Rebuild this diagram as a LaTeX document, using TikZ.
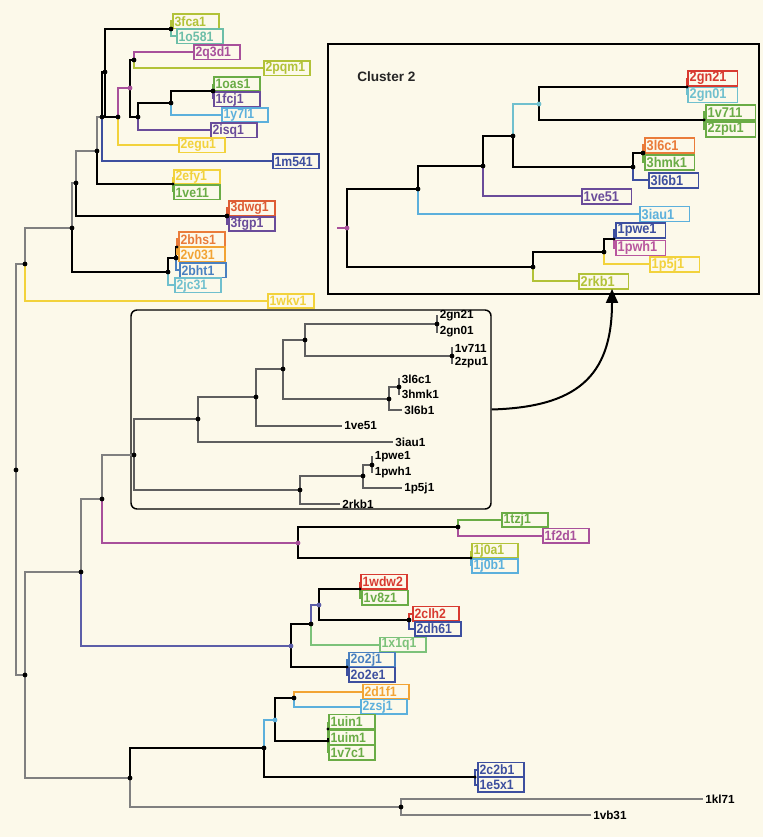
\documentclass[tikz,border=0pt]{standalone}
\usepackage{fontspec}
\setmainfont{Liberation Sans}
\newfontfamily\labfont{Liberation Sans}[FakeStretch=0.9]
\usetikzlibrary{arrows.meta}
\definecolor{bg}{RGB}{252,249,234}
\definecolor{cYG}{RGB}{178,194,56}
\definecolor{cTeal}{RGB}{108,190,168}
\definecolor{cMag}{RGB}{168,80,155}
\definecolor{cGreen}{RGB}{106,172,70}
\definecolor{cPurp}{RGB}{106,76,154}
\definecolor{cLB}{RGB}{92,176,220}
\definecolor{cYel}{RGB}{242,210,60}
\definecolor{cDB}{RGB}{61,79,159}
\definecolor{cRedO}{RGB}{222,92,52}
\definecolor{cOr}{RGB}{234,124,58}
\definecolor{cLOr}{RGB}{242,164,52}
\definecolor{cBlue}{RGB}{74,128,192}
\definecolor{cTeal2}{RGB}{112,192,206}
\definecolor{cRed}{RGB}{216,58,48}
\definecolor{cPink}{RGB}{184,86,158}
\definecolor{cLG}{RGB}{124,194,122}
\definecolor{cBP}{RGB}{92,94,168}
\definecolor{cGray}{RGB}{128,128,128}
\definecolor{cMidG}{RGB}{95,95,95}
\begin{document}
\begin{tikzpicture}[x=0.75pt,y=-0.75pt,
 lab/.style={draw=#1, text=#1, fill=bg, line width=1.4pt, font=\labfont\fontsize{10.2}{11}\selectfont\bfseries, anchor=west, inner xsep=1.3pt, inner ysep=0pt, minimum height=10.6pt, text width=32pt, align=left},
 labw/.style={lab=#1, text width=34.6pt, minimum height=11.2pt, font=\labfont\fontsize{10.6}{11}\selectfont\bfseries},
 mlab/.style={font=\fontsize{8.8}{9}\selectfont\bfseries, anchor=west, inner xsep=1.5pt, inner ysep=0pt},
 gbr/.style={draw=cGray, line width=0.95pt},
 kbr/.style={draw=black, line width=1.6pt},
 cbr/.style={draw=#1, line width=1.5pt},
 mbr/.style={draw=cMidG, line width=0.95pt}]
\fill[bg] (0,0) rectangle (763,837);
\useasboundingbox (0,0) rectangle (763,837);

% ---------- frames ----------
\node[draw=black, line width=1.9pt, minimum width=323.25pt, minimum height=187.5pt, inner sep=0pt] (cbox) at (543.5,169) {};
\node[draw=black, line width=1.1pt, rounded corners=4.5pt, minimum width=270pt, minimum height=149.25pt, inner sep=0pt] (mbox) at (311,409.5) {};
\node[font=\fontsize{10.2}{12}\selectfont\bfseries, anchor=west, inner sep=0pt, text=black!85] (ctitle) at (357,77) {Cluster 2};

% ---------- coordinates: upper-left tree ----------
\coordinate (R) at (16,470);
\coordinate (G) at (25,264);
\coordinate (A) at (72,228);
\coordinate (B) at (76,183);
\coordinate (C) at (97,151);
\coordinate (D) at (102,117);
\coordinate (F) at (105,72);
\coordinate (FC) at (171,29);
\coordinate (E) at (118,117);
\coordinate (I) at (130,88);
\coordinate (J) at (134,60);
\coordinate (K) at (138,117);
\coordinate (L) at (171,103);
\coordinate (M) at (213,91);
\coordinate (EF) at (173,184);
\coordinate (DW) at (227,216);
\coordinate (BH) at (168,272);
\coordinate (BH2) at (176,258);
\coordinate (BH3) at (177,247);
% lower tree
\coordinate (H) at (25,675);
\coordinate (S) at (81,572);
\coordinate (P) at (102,499);
\coordinate (Q) at (298,543);
\coordinate (TZ) at (458,527);
\coordinate (JA) at (471,558);
\coordinate (T) at (291,646);
\coordinate (U) at (311,624);
\coordinate (V) at (319,605);
\coordinate (WD) at (360,589);
\coordinate (CL) at (409,620);
\coordinate (OJ) at (347,667);
\coordinate (W) at (130,778);
\coordinate (X) at (264,748);
\coordinate (Z) at (275,720);
\coordinate (AA) at (294,698);
\coordinate (UI) at (328,741);
\coordinate (UI2) at (328,729);
\coordinate (CB) at (475,777);
\coordinate (Y) at (401,807);
% middle box tree
\coordinate (MR) at (134,455);
\coordinate (m1) at (198,419);
\coordinate (m2) at (256,397);
\coordinate (m3) at (283,369);
\coordinate (m4) at (305,340);
\coordinate (mg) at (437,324);
\coordinate (mv) at (452,356);
\coordinate (m5) at (389,399);
\coordinate (ml) at (399,387);
\coordinate (m6) at (300,490);
\coordinate (m7) at (363,476);
\coordinate (mp) at (372,465);
% cluster 2 tree
\coordinate (CR0) at (337,228);
\coordinate (CR) at (347,228);
\coordinate (N1) at (418,189);
\coordinate (N2) at (483,166);
\coordinate (N3) at (513,136);
\coordinate (N4) at (539,104);
\coordinate (GN) at (687,87);
\coordinate (VZ) at (704,120);
\coordinate (N5) at (633,167);
\coordinate (LC) at (643,153);
\coordinate (N6) at (533,267);
\coordinate (N7) at (604,252);
\coordinate (N8) at (614,239);
\coordinate (atip) at (612,289);

% ---------- labels: upper-left ----------
\node[lab=cYG] (l3fca1) at (172,21.5) {3fca1};
\node[lab=cTeal] (l1o581) at (176,36.5) {1o581};
\node[lab=cMag] (l2q3d1) at (193,52.5) {2q3d1};
\node[lab=cYG] (l2pqm1) at (263,68.5) {2pqm1};
\node[lab=cGreen] (l1oas1) at (213,84) {1oas1};
\node[lab=cPurp] (l1fcj1) at (213,99.5) {1fcj1};
\node[lab=cLB] (l1y7l1) at (221,115) {1y7l1};
\node[lab=cPurp] (l2isq1) at (210,130.5) {2isq1};
\node[lab=cYel] (l2egu1) at (178,145.5) {2egu1};
\node[lab=cDB] (l1m541) at (272,161.5) {1m541};
\node[lab=cYel] (l2efy1) at (173,177) {2efy1};
\node[lab=cGreen] (l1ve11) at (173,192.5) {1ve11};
\node[lab=cRedO] (l3dwg1) at (228,208.5) {3dwg1};
\node[lab=cPurp] (l3fgp1) at (228,224) {3fgp1};
\node[lab=cOr] (l2bhs1) at (178,239.5) {2bhs1};
\node[lab=cLOr] (l2v031) at (178,254.5) {2v031};
\node[lab=cBlue] (l2bht1) at (179,270.5) {2bht1};
\node[lab=cTeal2] (l2jc31) at (174,285.5) {2jc31};
\node[lab=cYel] (l1wkv1) at (267,301) {1wkv1};
% lower
\node[lab=cGreen] (l1tzj1) at (501,520) {1tzj1};
\node[lab=cMag] (l1f2d1) at (542,535.5) {1f2d1};
\node[lab=cYG] (l1j0a1) at (471,550.5) {1j0a1};
\node[lab=cLB] (l1j0b1) at (471,566) {1j0b1};
\node[lab=cRed] (l1wdw2) at (360,581.5) {1wdw2};
\node[lab=cGreen] (l1v8z1) at (361,597.5) {1v8z1};
\node[lab=cRed] (l2clh2) at (412,613.5) {2clh2};
\node[lab=cDB] (l2dh61) at (414,629) {2dh61};
\node[lab=cLG] (l1x1q1) at (379,644.5) {1x1q1};
\node[lab=cBlue] (l2o2j1) at (348,659.5) {2o2j1};
\node[lab=cDB] (l2o2e1) at (348,674.5) {2o2e1};
\node[lab=cLOr] (l2d1f1) at (362,691.5) {2d1f1};
\node[lab=cLB] (l2zsj1) at (360,706.5) {2zsj1};
\node[lab=cGreen] (l1uin1) at (328,721.5) {1uin1};
\node[lab=cGreen] (l1uim1) at (328,737.5) {1uim1};
\node[lab=cGreen] (l1v7c1) at (328,752.5) {1v7c1};
\node[lab=cDB] (l2c2b1) at (477,769.5) {2c2b1};
\node[lab=cDB] (l1e5x1) at (477,784.5) {1e5x1};
% cluster 2
\node[labw=cRed] (c2gn21) at (687,78.5) {2gn21};
\node[labw=cTeal2] (c2gn01) at (687,95) {2gn01};
\node[labw=cGreen] (c1v711) at (705,112.5) {1v711};
\node[labw=cGreen] (c2zpu1) at (705,129.5) {2zpu1};
\node[labw=cOr] (c3l6c1) at (644,145.5) {3l6c1};
\node[labw=cGreen] (c3hmk1) at (644,162.5) {3hmk1};
\node[labw=cDB] (c3l6b1) at (648,180.5) {3l6b1};
\node[labw=cPurp] (c1ve51) at (581,196.5) {1ve51};
\node[labw=cLB] (c3iau1) at (639,214) {3iau1};
\node[labw=cDB] (c1pwe1) at (615,230.5) {1pwe1};
\node[labw=cPink] (c1pwh1) at (615,248) {1pwh1};
\node[labw=cYel] (c1p5j1) at (649,264.5) {1p5j1};
\node[labw=cYG] (c2rkb1) at (578,281.5) {2rkb1};
% middle box labels
\node[mlab] (m2gn21) at (437.5,316) {2gn21};
\node[mlab] (m2gn01) at (437.5,332) {2gn01};
\node[mlab] (m1v711) at (452.5,348) {1v711};
\node[mlab] (m2zpu1) at (452.5,363) {2zpu1};
\node[mlab] (m3l6c1) at (399.5,379) {3l6c1};
\node[mlab] (m3hmk1) at (399.5,394) {3hmk1};
\node[mlab] (m3l6b1) at (402,410) {3l6b1};
\node[mlab] (m1ve51) at (342,426) {1ve51};
\node[mlab] (m3iau1) at (393,442) {3iau1};
\node[mlab] (m1pwe1) at (372.5,457) {1pwe1};
\node[mlab] (m1pwh1) at (372.5,472) {1pwh1};
\node[mlab] (m1p5j1) at (402,488) {1p5j1};
\node[mlab] (m2rkb1) at (340,504) {2rkb1};
\node[mlab] (m1kl71) at (703,799) {1kl71};
\node[mlab] (m1vb31) at (591,815) {1vb31};

% ---------- edges: upper-left ----------
\draw[gbr] (R) |- (G);
\draw[gbr] (R) |- (H);
\draw[gbr] (G) |- (A);
\draw[cbr=cYel] (G) |- (l1wkv1.west);
\draw[gbr] (A) |- (B);
\draw[kbr] (A) |- (BH);
\draw[gbr] (B) |- (C);
\draw[kbr] (B) |- (DW);
\draw[gbr] (C) |- (D);
\draw[kbr] (C) |- (EF);
\draw[kbr] (D) |- (F);
\draw[cbr=cDB] (D) |- (l1m541.west);
\draw[kbr] (F) |- (FC);
\draw[kbr] (F) |- (E);
\draw[cbr=cYG] (FC) |- (l3fca1.west);
\draw[cbr=cTeal] (FC) |- (l1o581.west);
\draw[cbr=cMag] (E) |- (I);
\draw[cbr=cYel] (E) |- (l2egu1.west);
\draw[kbr] (I) |- (J);
\draw[kbr] (I) |- (K);
\draw[cbr=cMag] (J) |- (l2q3d1.west);
\draw[cbr=cYG] (J) |- (l2pqm1.west);
\draw[kbr] (K) |- (L);
\draw[cbr=cPurp] (K) |- (l2isq1.west);
\draw[kbr] (L) |- (M);
\draw[cbr=cLB] (L) |- (l1y7l1.west);
\draw[cbr=cGreen] (M) |- (l1oas1.west);
\draw[cbr=cPurp] (M) |- (l1fcj1.west);
\draw[cbr=cYel] (EF) |- (l2efy1.west);
\draw[cbr=cGreen] (EF) |- (l1ve11.west);
\draw[cbr=cRedO] (DW) |- (l3dwg1.west);
\draw[cbr=cPurp] (DW) |- (l3fgp1.west);
\draw[kbr] (BH) |- (BH2);
\draw[cbr=cTeal2] (BH) |- (l2jc31.west);
\draw[kbr] (BH2) |- (BH3);
\draw[cbr=cBlue] (BH2) |- (l2bht1.west);
\draw[cbr=cOr] (BH3) |- (l2bhs1.west);
\draw[cbr=cLOr] (BH3) |- (l2v031.west);
% lower
\draw[gbr] (H) |- (S);
\draw[gbr] (H) |- (W);
\draw[gbr] (S) |- (P);
\draw[cbr=cBP] (S) |- (T);
\draw[gbr] (P) |- (MR);
\draw[cbr=cMag] (P) |- (Q);
\draw[kbr] (Q) |- (TZ);
\draw[kbr] (Q) |- (JA);
\draw[cbr=cGreen] (TZ) |- (l1tzj1.west);
\draw[cbr=cMag] (TZ) |- (l1f2d1.west);
\draw[cbr=cYG] (JA) |- (l1j0a1.west);
\draw[cbr=cLB] (JA) |- (l1j0b1.west);
\draw[kbr] (T) |- (U);
\draw[kbr] (T) |- (OJ);
\draw[cbr=cBP] (U) |- (V);
\draw[cbr=cLG] (U) |- (l1x1q1.west);
\draw[kbr] (V) |- (WD);
\draw[kbr] (V) |- (CL);
\draw[cbr=cRed] (WD) |- (l1wdw2.west);
\draw[cbr=cGreen] (WD) |- (l1v8z1.west);
\draw[cbr=cRed] (CL) |- (l2clh2.west);
\draw[cbr=cDB] (CL) |- (l2dh61.west);
\draw[cbr=cBlue] (OJ) |- (l2o2j1.west);
\draw[cbr=cDB] (OJ) |- (l2o2e1.west);
\draw[kbr] (W) |- (X);
\draw[gbr] (W) |- (Y);
\draw[cbr=cLB] (X) |- (Z);
\draw[kbr] (X) |- (CB);
\draw[kbr] (Z) |- (AA);
\draw[kbr] (Z) |- (UI);
\draw[cbr=cLOr] (AA) |- (l2d1f1.west);
\draw[cbr=cLB] (AA) |- (l2zsj1.west);
\draw[kbr] (UI) |- (UI2);
\draw[cbr=cGreen] (UI) |- (l1v7c1.west);
\draw[cbr=cGreen] (UI2) |- (l1uin1.west);
\draw[cbr=cGreen] (UI2) |- (l1uim1.west);
\draw[cbr=cDB] (CB) |- (l2c2b1.west);
\draw[cbr=cDB] (CB) |- (l1e5x1.west);
\draw[gbr] (Y) |- (m1kl71.west);
\draw[gbr] (Y) |- (m1vb31.west);
% middle box tree
\draw[mbr] (MR) |- (m1);
\draw[mbr] (MR) |- (m6);
\draw[mbr] (m1) |- (m2);
\draw[mbr] (m1) |- (m3iau1.west);
\draw[mbr] (m2) |- (m3);
\draw[mbr] (m2) |- (m1ve51.west);
\draw[mbr] (m3) |- (m4);
\draw[mbr] (m3) |- (m5);
\draw[mbr] (m4) |- (mg);
\draw[mbr] (m4) |- (mv);
\draw[mbr] (mg) |- (m2gn21.west);
\draw[mbr] (mg) |- (m2gn01.west);
\draw[mbr] (mv) |- (m1v711.west);
\draw[mbr] (mv) |- (m2zpu1.west);
\draw[mbr] (m5) |- (ml);
\draw[mbr] (m5) |- (m3l6b1.west);
\draw[mbr] (ml) |- (m3l6c1.west);
\draw[mbr] (ml) |- (m3hmk1.west);
\draw[mbr] (m6) |- (m7);
\draw[mbr] (m6) |- (m2rkb1.west);
\draw[mbr] (m7) |- (mp);
\draw[mbr] (m7) |- (m1p5j1.west);
\draw[mbr] (mp) |- (m1pwe1.west);
\draw[mbr] (mp) |- (m1pwh1.west);
% cluster 2 tree
\draw[cbr=cMag] (CR0) -- (CR);
\draw[cbr=black] (CR) |- (N1);
\draw[cbr=black] (CR) |- (N6);
\draw[cbr=black] (N1) |- (N2);
\draw[cbr=cLB] (N1) |- (c3iau1.west);
\draw[cbr=black] (N2) |- (N3);
\draw[cbr=cPurp] (N2) |- (c1ve51.west);
\draw[cbr=cTeal2] (N3) |- (N4);
\draw[cbr=black] (N3) |- (N5);
\draw[cbr=black] (N4) |- (GN);
\draw[cbr=black] (N4) |- (VZ);
\draw[cbr=cRed] (GN) |- (c2gn21.west);
\draw[cbr=cTeal2] (GN) |- (c2gn01.west);
\draw[cbr=cGreen] (VZ) |- (c1v711.west);
\draw[cbr=cGreen] (VZ) |- (c2zpu1.west);
\draw[cbr=black] (N5) |- (LC);
\draw[cbr=cDB] (N5) |- (c3l6b1.west);
\draw[cbr=cOr] (LC) |- (c3l6c1.west);
\draw[cbr=cGreen] (LC) |- (c3hmk1.west);
\draw[cbr=black] (N6) |- (N7);
\draw[cbr=cYG] (N6) |- (c2rkb1.west);
\draw[cbr=black] (N7) |- (N8);
\draw[cbr=cYel] (N7) |- (c1p5j1.west);
\draw[cbr=cDB] (N8) |- (c1pwe1.west);
\draw[cbr=cPink] (N8) |- (c1pwh1.west);

% ---------- arrow ----------
\draw[line width=1.5pt, -{Triangle[length=10.5pt,width=9pt]}] (mbox.east) .. controls (575,407) and (612,378) .. (atip);

% ---------- dots ----------
\foreach \p in {R,G,A,B,C,D,F,FC,E,J,K,L,M,DW,BH,BH2,H,S,P,TZ,U,CL,W,X,AA,Y,MR,m1,m2,m3,m4,mg,mv,m5,ml,m6,m7,mp,N1,N2,N3,N5,LC,N6,N7}
  \fill (\p) circle (1.8pt);
\foreach \p in {EF,BH3,JA,WD,OJ,UI,UI2,CB,GN,VZ,N8}
  \fill (\p) circle (1.3pt);
\fill[cMag] (I) circle (1.8pt);
\fill[cMag] (Q) circle (1.8pt);
\fill[cMag] (CR) circle (1.8pt);
\fill[cTeal2] (N4) circle (1.8pt);
\fill[cBP] (T) circle (1.8pt);
\fill[cBP] (V) circle (1.8pt);
\fill[cLB] (Z) circle (1.8pt);
\end{tikzpicture}
\end{document}
